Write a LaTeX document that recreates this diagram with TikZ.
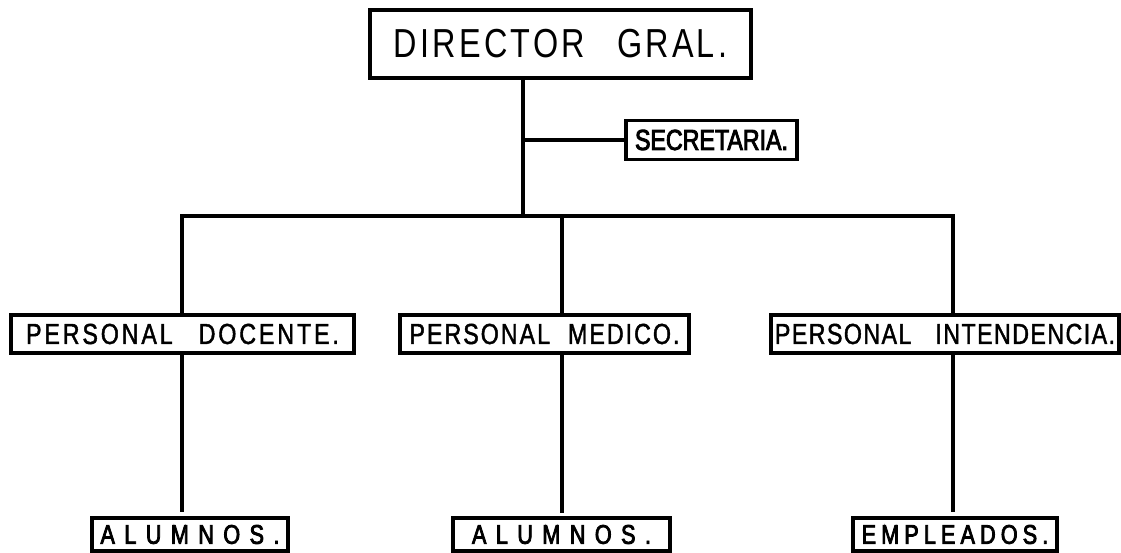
\documentclass[tikz,border=0pt]{standalone}
\usepackage{fontspec}
\newfontfamily\lettering[FakeStretch=0.8]{Liberation Sans}
\newfontfamily\letteringmed[FakeStretch=0.8,FakeBold=1.5]{Liberation Sans}
\newfontfamily\letteringheavy[FakeStretch=0.8,FakeBold=3]{Liberation Sans}
\tikzset{
  box/.style={draw, line width=3.6pt, inner sep=0pt, minimum height=38pt, anchor=center},
  conn/.style={draw, line width=3.6pt, line join=miter},
  dirfont/.style={font={\lettering\fontsize{40.5}{44}\selectfont\addfontfeatures{LetterSpace=8}}},
  secfont/.style={font={\letteringheavy\fontsize{29}{32}\selectfont}},
  midfont/.style={font={\letteringmed\fontsize{29}{32}\selectfont\addfontfeatures{LetterSpace=10}}},
  medfont/.style={font={\letteringmed\fontsize{29}{32}\selectfont\addfontfeatures{LetterSpace=7}}},
  intfont/.style={font={\letteringmed\fontsize{29}{32}\selectfont\addfontfeatures{LetterSpace=5}}},
  alfont/.style={font={\letteringheavy\fontsize{27}{30}\selectfont\addfontfeatures{LetterSpace=35}}},
  empfont/.style={font={\letteringheavy\fontsize{27}{30}\selectfont\addfontfeatures{LetterSpace=19}}}
}
\begin{document}
\begin{tikzpicture}[x=1pt,y=-1pt]
\useasboundingbox (0,0) rectangle (1121,553);
\fill[white] (0,0) rectangle (1121,553);
\node[box, minimum width=381pt, minimum height=68pt, dirfont] (dir) at (560.5,44) {DIRECTOR\hspace{32pt}GRAL.};
\node[box, minimum width=171pt, minimum height=39pt, secfont] (sec) at (711.5,140) {SECRETARIA.};
\node[box, minimum width=343pt, midfont] (doc) at (182.5,334) {PERSONAL\hspace{26pt}DOCENTE.};
\node[box, minimum width=289pt, medfont] (med) at (544.5,334) {PERSONAL\hspace{18pt}MEDICO.};
\node[box, minimum width=348pt, intfont] (int) at (945,334) {PERSONAL\hspace{24pt}INTENDENCIA.};
\node[box, minimum width=196pt, minimum height=33pt, alfont] (al1) at (190,534.5) {ALUMNOS.};
\node[box, minimum width=217pt, minimum height=33pt, alfont] (al2) at (561.5,534.5) {ALUMNOS.};
\node[box, minimum width=204pt, minimum height=33pt, empfont] (emp) at (955,534.5) {EMPLEADOS.};
\coordinate (jD) at (523,216);
\coordinate (jS) at (523,140);
\coordinate (jL) at (182,216);
\coordinate (jM) at (562,216);
\coordinate (jR) at (953,216);
\draw[conn] (dir.south -| jD) -- (jD);
\draw[conn] (jS) -- (sec.west);
\draw[conn] (doc.north -| jL) -- (jL) -- (jR) -- (int.north -| jR);
\draw[conn] (jM) -- (med.north -| jM);
\draw[conn, shorten >=4pt] (doc.south -| jL) -- (al1.north -| jL);
\draw[conn, shorten >=3pt] (med.south -| jM) -- (al2.north -| jM);
\draw[conn, shorten >=4pt] (int.south -| jR) -- (emp.north -| jR);
\end{tikzpicture}
\end{document}
